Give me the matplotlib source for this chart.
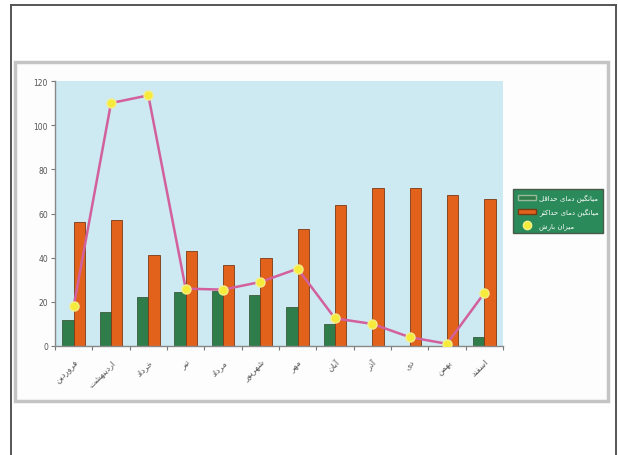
import matplotlib
matplotlib.use("Agg")
import matplotlib.pyplot as plt
from matplotlib.patches import Rectangle, Patch
from matplotlib.lines import Line2D
import numpy as np
import matplotlib.font_manager as fm
from matplotlib.ft2font import FT2Font

months = ["فروردین", "اردیبهشت", "خرداد", "تیر", "مرداد", "شهریور",
          "مهر", "آبان", "آذر", "دی", "بهمن", "اسفند"]
min_temp = [12, 15.5, 22, 24.5, 25, 23, 17.5, 10, 0, 0, 0, 4]
max_temp = [56, 57, 41, 43, 36.5, 40, 53, 64, 71.5, 71.5, 68.5, 66.5]
rain = [18, 110, 113.5, 26, 25.5, 29, 35, 12.5, 10, 4, 1, 24]
series_names = ["میانگین دمای حداقل", "میانگین دمای حداکثر", "میزان بارش"]
yticks = [0, 20, 40, 60, 80, 100, 120]

# ---- minimal Persian shaping (presentation forms) ----
_font_path = fm.findfont("DejaVu Sans")
_cmap = FT2Font(_font_path).get_charmap()
FORMS = {  # iso, fin, ini, med (ini/med None => right-joining only)
    "ا": (0xFE8D, 0xFE8E, None, None), "آ": (0xFE81, 0xFE82, None, None),
    "ب": (0xFE8F, 0xFE90, 0xFE91, 0xFE92), "ت": (0xFE95, 0xFE96, 0xFE97, 0xFE98),
    "ث": (0xFE99, 0xFE9A, 0xFE9B, 0xFE9C), "ح": (0xFEA1, 0xFEA2, 0xFEA3, 0xFEA4),
    "خ": (0xFEA5, 0xFEA6, 0xFEA7, 0xFEA8), "د": (0xFEA9, 0xFEAA, None, None),
    "ذ": (0xFEAB, 0xFEAC, None, None), "ر": (0xFEAD, 0xFEAE, None, None),
    "ز": (0xFEAF, 0xFEB0, None, None), "س": (0xFEB1, 0xFEB2, 0xFEB3, 0xFEB4),
    "ش": (0xFEB5, 0xFEB6, 0xFEB7, 0xFEB8), "ف": (0xFED1, 0xFED2, 0xFED3, 0xFED4),
    "ق": (0xFED5, 0xFED6, 0xFED7, 0xFED8), "ل": (0xFEDD, 0xFEDE, 0xFEDF, 0xFEE0),
    "م": (0xFEE1, 0xFEE2, 0xFEE3, 0xFEE4), "ن": (0xFEE5, 0xFEE6, 0xFEE7, 0xFEE8),
    "ه": (0xFEE9, 0xFEEA, 0xFEEB, 0xFEEC), "و": (0xFEED, 0xFEEE, None, None),
    "ی": (0xFBFC, 0xFBFD, 0xFBFE, 0xFBFF), "ک": (0xFB8E, 0xFB8F, 0xFB90, 0xFB91),
    "گ": (0xFB92, 0xFB93, 0xFB94, 0xFB95),
}


def shape(word):
    out = []
    n = len(word)
    for i, ch in enumerate(word):
        f = FORMS.get(ch)
        if f is None:
            out.append(ch)
            continue
        prev = word[i - 1] if i > 0 else None
        nxt = word[i + 1] if i < n - 1 else None
        jp = prev is not None and prev in FORMS and FORMS[prev][2] is not None
        jn = nxt is not None and nxt in FORMS and f[2] is not None
        if jp and jn:
            cp = f[3]
        elif jp:
            cp = f[1]
        elif jn:
            cp = f[2]
        else:
            cp = f[0]
        out.append(chr(cp) if cp in _cmap else ch)
    return "".join(out)[::-1]


def shape_phrase(phrase):
    return " ".join(shape(p) for p in phrase.split(" ")[::-1])


W, H = 618, 456
fig = plt.figure(figsize=(W / 100, H / 100), dpi=100)
fig.patch.set_facecolor("white")

# outer frame
frame_col = "#555555"
fig.add_artist(Line2D([11 / W, 11 / W], [0, 1 - 6 / H], color=frame_col, lw=1.4))
fig.add_artist(Line2D([11 / W, 616 / W], [1 - 6 / H, 1 - 6 / H], color=frame_col, lw=1.4))
fig.add_artist(Line2D([616 / W, 616 / W], [0, 1 - 6 / H], color=frame_col, lw=1.4))

# chart area box
fig.add_artist(Rectangle((15 / W, 1 - 402 / H), (608 - 15) / W, (402 - 63) / H,
                         transform=fig.transFigure, facecolor="#fdfdfd",
                         edgecolor="#c4c4c4", lw=2.5, zorder=0))

ax = fig.add_axes([55 / W, 1 - 347 / H, 448 / W, 265 / H])
ax.set_facecolor("#cde9f1")
x = np.arange(len(months))
bw = 0.3
ax.bar(x - bw / 2, min_temp, bw, color="#2e7d4a", edgecolor="#3c5a3c", lw=0.6, zorder=2)
ax.bar(x + bw / 2, max_temp, bw, color="#e2621c", edgecolor="#7a3a14", lw=0.6, zorder=2)
ax.plot(x, rain, color="#d2609c", lw=1.8, zorder=3)
ax.plot(x, rain, ls="none", marker="o", ms=6.5, mfc="#f6ea3a", mec="#f3f08a", mew=1.0, zorder=4)

ax.set_xlim(-0.5, len(months) - 0.5)
ax.set_ylim(0, 120)
ax.set_yticks(yticks)
ax.set_yticklabels([str(v) for v in yticks], fontsize=5.5, color="#555555")
ax.set_xticks(np.arange(len(months) + 1) - 0.5)
ax.set_xticklabels([])
ax.set_xticks(x, minor=True)
ax.set_xticklabels([shape(m) for m in months], minor=True, rotation=45,
                   fontsize=6, color="#555555", ha="right", rotation_mode="anchor")
ax.tick_params(axis="x", which="minor", length=0, pad=8)
ax.tick_params(axis="x", which="major", length=3, color="#777777", direction="out")
ax.tick_params(axis="y", length=3, color="#777777", direction="out", pad=2)
for s in ["top", "right"]:
    ax.spines[s].set_visible(False)
for s in ["left", "bottom"]:
    ax.spines[s].set_color("#888888")
    ax.spines[s].set_linewidth(1.0)

handles = [
    Patch(facecolor="#2e7d4a", edgecolor="#9ab89a"),
    Patch(facecolor="#e2621c", edgecolor="#7a3a14"),
    Line2D([], [], color="#d2609c", lw=0, marker="o", ms=6, mfc="#f6ea3a", mec="#f3f08a"),
]
leg = fig.legend(handles, [shape_phrase(w) for w in series_names],
                 loc="upper left", bbox_to_anchor=(510 / W, 1 - 187 / H),
                 fontsize=5, frameon=True, fancybox=False, borderpad=0.6,
                 handlelength=2.6, handletextpad=0.5, labelspacing=0.9)
leg.get_frame().set_facecolor("#2a8a5a")
leg.get_frame().set_edgecolor("#4a5a4a")
leg.get_frame().set_alpha(1)
for t in leg.get_texts():
    t.set_color("white")

fig.savefig("out.png", dpi=100)
